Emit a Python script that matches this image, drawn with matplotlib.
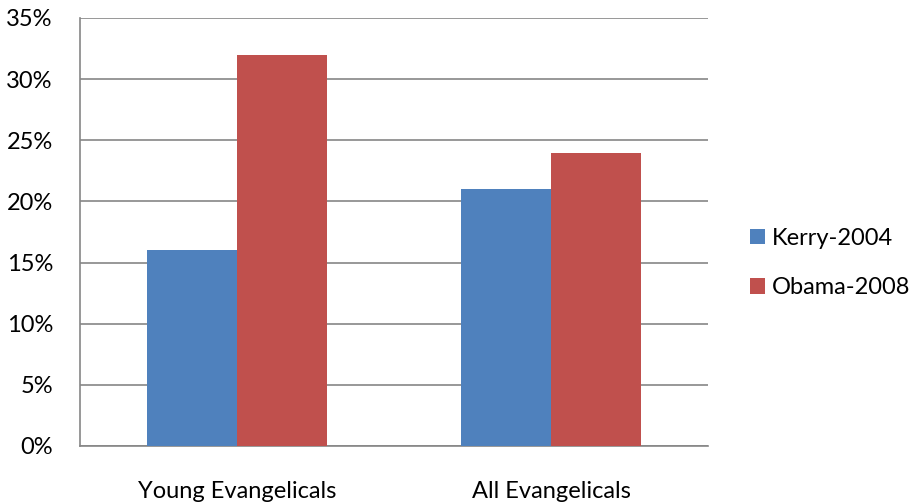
import matplotlib
matplotlib.use("Agg")
import matplotlib.pyplot as plt
import numpy as np
from matplotlib.patches import Patch
from matplotlib.ticker import FuncFormatter, MultipleLocator

categories = ["Young Evangelicals", "All Evangelicals"]
series_names = ["Kerry-2004", "Obama-2008"]
kerry_2004 = [16, 21]
obama_2008 = [32, 24]
colors = ["#4F81BD", "#C0504D"]

plt.rcParams["font.family"] = ["Lato", "DejaVu Sans"]

fig = plt.figure(figsize=(9.16, 5.04), dpi=100)
ax = fig.add_axes([80 / 916, 58 / 504, 628 / 916, 428 / 504])

x = np.arange(len(categories))
w = 0.287
for vals, col, off in [(kerry_2004, colors[0], -w / 2), (obama_2008, colors[1], w / 2)]:
    ax.bar(x + off, vals, width=w, color=col, zorder=3)

ax.set_xlim(-0.5, len(categories) - 0.5)
ax.set_ylim(0, 35)
ax.yaxis.set_major_locator(MultipleLocator(5))
ax.yaxis.set_major_formatter(FuncFormatter(lambda v, _: f"{v:.0f}%"))
ax.grid(axis="y", color="#868686", linewidth=1.2, zorder=0)
ax.set_xticks(x)
ax.set_xticklabels(categories)
ax.tick_params(axis="both", length=0, labelsize=17, colors="black")
ax.tick_params(axis="y", pad=19.5)
ax.tick_params(axis="x", pad=25)

for side in ["top", "right"]:
    ax.spines[side].set_visible(False)
for side in ["left", "bottom"]:
    ax.spines[side].set_color("#868686")
    ax.spines[side].set_linewidth(1.2)

handles = [Patch(facecolor=c, label=n) for c, n in zip(colors, series_names)]
fig.legend(handles=handles, loc="center left", bbox_to_anchor=(729 / 916, 241 / 504),
           frameon=False, fontsize=17, handlelength=0.62, handleheight=0.62,
           handletextpad=0.3, labelspacing=1.2)

fig.savefig("out.png", dpi=100)
